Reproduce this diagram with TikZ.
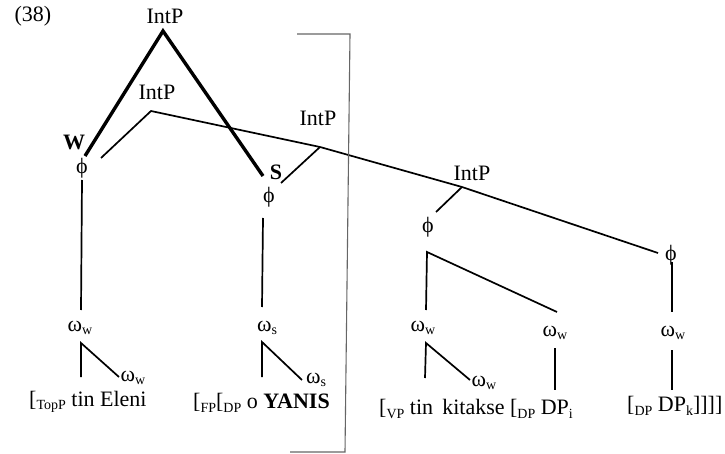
\documentclass[tikz,border=0pt]{standalone}
\usepackage{fontspec}
\setmainfont{Liberation Serif}
\newcommand{\lsub}[1]{\raisebox{-0.35ex}{\fontsize{14}{15}\selectfont #1}}
\begin{document}
\begin{tikzpicture}[x=1pt,y=-1pt,
  lab/.style={inner sep=0pt,font=\fontsize{22}{26}\selectfont},
  thk/.style={line width=3.4pt},
  thn/.style={line width=1.7pt},
  brk/.style={line width=1.1pt,draw=black!60}]
\useasboundingbox (0,0) rectangle (725,454);
% labels
\node[lab] (n38) at (33,16) {(38)};
\node[lab] (ipa) at (165,16) {IntP};
\node[lab] (ipb) at (157,92) {IntP};
\node[lab] (ipc) at (318,118) {IntP};
\node[lab] (ipd) at (472,173) {IntP};
\node[lab,font=\fontsize{22}{26}\selectfont\bfseries] (w) at (74,142) {W};
\node[lab,font=\fontsize{22}{26}\selectfont\bfseries] (s) at (276,172) {S};
\node[lab] (pa) at (82,168) {ϕ};
\node[lab] (pb) at (269,197) {ϕ};
\node[lab] (pc) at (428,227) {ϕ};
\node[lab] (pd) at (671,255) {ϕ};
\node[lab] (oa) at (80,328) {ω\lsub{w}};
\node[lab] (ob) at (267,328) {ω\lsub{s}};
\node[lab] (oc) at (423,328) {ω\lsub{w}};
\node[lab] (od) at (555,333) {ω\lsub{w}};
\node[lab] (oe) at (673,333) {ω\lsub{w}};
\node[lab] (sa) at (133,378) {ω\lsub{w}};
\node[lab] (sb) at (316,380) {ω\lsub{s}};
\node[lab] (sc) at (484,383) {ω\lsub{w}};
\node[lab,anchor=west] (ta) at (29,402) {[\lsub{TopP} tin Eleni};
\node[lab,anchor=west] (tb) at (193,403) {[\lsub{FP}[\lsub{DP} o \textbf{YANIS}};
\node[lab,anchor=west] (tc) at (379,409) {[\lsub{VP} tin\, kitakse [\lsub{DP} DP\lsub{i}};
\node[lab,anchor=west] (td) at (627,406) {[\lsub{DP} DP\lsub{k}]]]]};
% vertices and ends
\coordinate (va) at (163,31);
\coordinate (vb) at (151,111);
\coordinate (vc) at (320,147);
\coordinate (vd) at (462,187);
\coordinate (ea) at (85,156);
\coordinate (eb) at (263,176);
\coordinate (ec) at (101,158);
\coordinate (ed) at (281,183);
\coordinate (ee) at (436,212);
\coordinate (ef) at (658,253);
\draw[thk] (ea) -- (va) -- (eb);
\draw[thn] (ec) -- (vb) -- (vc) -- (vd) -- (ef);
\draw[thn] (vc) -- (ed);
\draw[thn] (vd) -- (ee);
% phi stems
\coordinate (la1) at (82,180); \coordinate (la2) at (81,310);
\coordinate (lb1) at (263,218); \coordinate (lb2) at (262,307);
\draw[thn] (la1) -- (la2);
\draw[thn] (lb1) -- (lb2);
\coordinate (vp) at (427,252); \coordinate (vp1) at (426,310); \coordinate (vp2) at (557,312);
\draw[thn] (vp1) -- (vp) -- (vp2);
\coordinate (ld1) at (672,262); \coordinate (ld2) at (672,312);
\draw[thn] (ld1) -- (ld2);
% omega subtrees
\coordinate (wa) at (81,343); \coordinate (wa1) at (81,377); \coordinate (wa2) at (119,377);
\draw[thn] (wa1) -- (wa) -- (wa2);
\coordinate (wb) at (262,342); \coordinate (wb1) at (262,377); \coordinate (wb2) at (302,380);
\draw[thn] (wb1) -- (wb) -- (wb2);
\coordinate (wc) at (426,343); \coordinate (wc1) at (425,378); \coordinate (wc2) at (470,380);
\draw[thn] (wc1) -- (wc) -- (wc2);
\coordinate (wd1) at (555,348); \coordinate (wd2) at (555,390);
\draw[thn] (wd1) -- (wd2);
\coordinate (we1) at (672,350); \coordinate (we2) at (672,390);
\draw[thn] (we1) -- (we2);
% bracket
\coordinate (b1) at (297,34); \coordinate (b2) at (350,34);
\coordinate (b3) at (345,452); \coordinate (b4) at (290,452);
\draw[brk] (b1) -- (b2) -- (b3) -- (b4);
\end{tikzpicture}
\end{document}
